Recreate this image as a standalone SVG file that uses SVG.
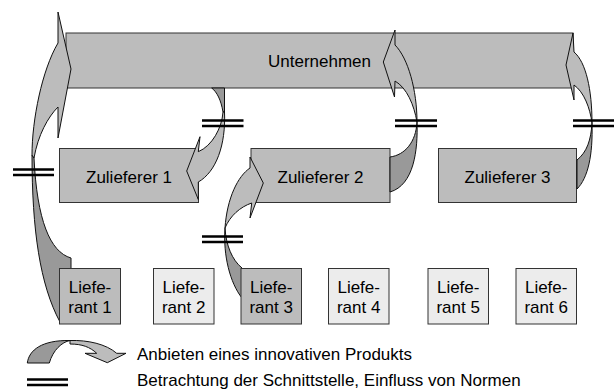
<svg xmlns="http://www.w3.org/2000/svg" width="614" height="390" viewBox="0 0 614 390">
<style>
.box{fill:#bcbcbc;stroke:#333;stroke-width:1}
.lbox{fill:#ececec;stroke:#333;stroke-width:1}
.lt{fill:#bcbcbc;stroke:#111;stroke-width:1;stroke-linejoin:miter}
.dk{fill:#999999;stroke:#111;stroke-width:1}
.mk{stroke:#000;stroke-width:2.5;fill:none}
text{font-family:"Liberation Sans",Arial,sans-serif;font-size:17px;fill:#000}
.c{text-anchor:middle}
</style>
<rect width="614" height="390" fill="#fff"/>
<g id="unternehmen"><rect class="box" x="66" y="33" width="507" height="55"/><text class="c" x="319.5" y="67">Unternehmen</text></g>
<g id="zulieferer1"><rect class="box" x="59.5" y="148.5" width="139" height="54"/><text class="c" x="129" y="183">Zulieferer 1</text></g>
<g id="zulieferer2"><rect class="box" x="251" y="148.5" width="139" height="54"/><text class="c" x="320.5" y="183">Zulieferer 2</text></g>
<g id="zulieferer3"><rect class="box" x="438.5" y="148.5" width="138" height="54"/><text class="c" x="507.5" y="183">Zulieferer 3</text></g>
<g id="connectors">
<g id="arrowA"><path class="dk" d="M32,155 C32,230 40,285 60,322 L71,322 L71,258 C50,252 37,220 34,158 Z"/><path class="lt" d="M58,43 L58,12 L71,69 L58,138 L58,107 C48,117 38,135 34,158 L32,155 C32,120 42,70 58,43 Z"/></g>
<g id="arrowB"><path class="dk" d="M211.7,88 C217,92 221,100 223,112 L224.5,112 L224.5,88 Z"/><path class="lt" d="M223,112 C222,128 212,146 198.3,151.7 L200,136.7 L186.7,171 L198.3,199.5 L198.3,182 C216,172 226,145 224.5,112 Z"/></g>
<g id="arrowC"><path class="dk" d="M225,228 C223,255 230,283 242,298 L242,268 C232,260 226,245 225,228 Z"/><path class="lt" d="M250,168 C238,176 227,198 225,228 C230,216 240,207 251.7,203 L250,218 L263.3,183 L250,157 Z"/></g>
<g id="arrowD"><path class="dk" d="M417,122 C418,150 414,185 390,192 L390,157 C405,155 416,142 417,122 Z"/><path class="lt" d="M395,45 L395,30 L383.3,62 L394.5,97 L395,81 C407,88 414,105 417,122 C417,90 408,58 395,45 Z"/></g>
<g id="arrowE"><path class="dk" d="M592,123 C593,155 588,178 577,189 L577,160 C587,152 591,140 592,123 Z"/><path class="lt" d="M574,52 C586,62 592,90 592,123 C590,108 584,92 574,85 L574,100 L566,65 L573,33 Z"/></g>
</g>
<g id="lieferant1"><rect class="box" x="59.5" y="268.5" width="61" height="55.5"/><text class="c" x="90" y="293">Liefe-</text><text class="c" x="90" y="313">rant 1</text></g>
<g id="lieferant2"><rect class="lbox" x="153.5" y="268.5" width="60.5" height="55.5"/><text class="c" x="183.7" y="293">Liefe-</text><text class="c" x="183.7" y="313">rant 2</text></g>
<g id="lieferant3"><rect class="box" x="241" y="268.5" width="60.5" height="55.5"/><text class="c" x="271.2" y="293">Liefe-</text><text class="c" x="271.2" y="313">rant 3</text></g>
<g id="lieferant4"><rect class="lbox" x="328.5" y="268.5" width="60.5" height="55.5"/><text class="c" x="358.7" y="293">Liefe-</text><text class="c" x="358.7" y="313">rant 4</text></g>
<g id="lieferant5"><rect class="lbox" x="428" y="268.5" width="60.5" height="55.5"/><text class="c" x="458.2" y="293">Liefe-</text><text class="c" x="458.2" y="313">rant 5</text></g>
<g id="lieferant6"><rect class="lbox" x="516" y="268.5" width="60.5" height="55.5"/><text class="c" x="546.2" y="293">Liefe-</text><text class="c" x="546.2" y="313">rant 6</text></g>
<g id="markers">
<path class="mk" d="M13,169.5 H54 M13,175 H54"/>
<path class="mk" d="M202,120.5 H243.5 M202,126 H243.5"/>
<path class="mk" d="M202,236.5 H243 M202,242 H243"/>
<path class="mk" d="M395,120.5 H437 M395,126 H437"/>
<path class="mk" d="M573,120.5 H614 M573,126 H614"/>
</g>
<g id="legend">
<path class="dk" d="M27.3,363 C29,350 42,340 70,340.5 C62,342 53,350 49.3,363 Z"/>
<path class="lt" d="M70,340.5 C88,340 106,344 116.7,353.3 L126,353.3 L107.3,362.7 L85,353.3 L96.7,353.3 C90,347 82,344 70,344 Z"/>
<path class="mk" d="M27,379.5 H68 M27,385 H68"/>
<text x="137" y="360">Anbieten eines innovativen Produkts</text>
<text x="137" y="386">Betrachtung der Schnittstelle, Einfluss von Normen</text>
</g>
</svg>
